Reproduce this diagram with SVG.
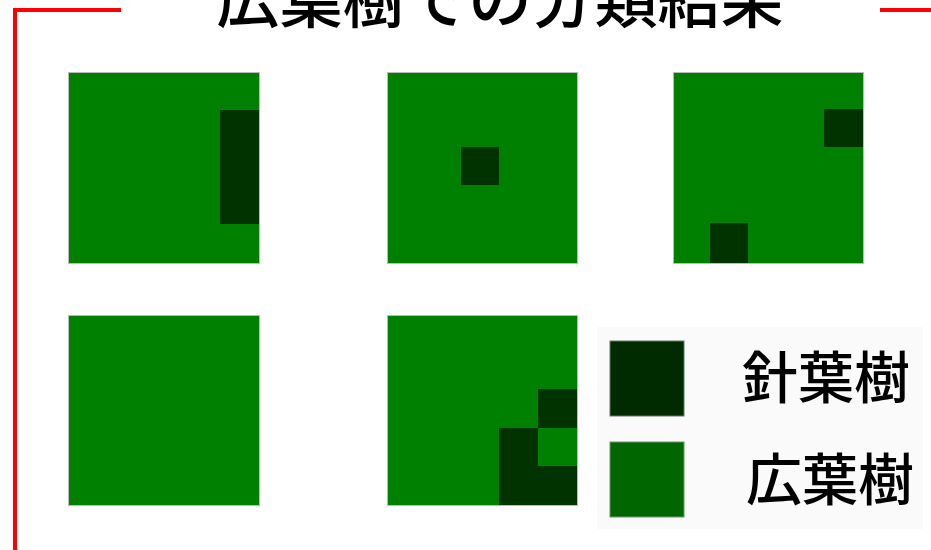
<svg xmlns="http://www.w3.org/2000/svg" width="931" height="550" viewBox="0 0 931 550">
<style>
.tile{fill:#008000;stroke:#bbbbbb;stroke-width:1}
.d{fill:#003300}
.t{font-family:"Noto Sans CJK JP","Noto Sans",sans-serif;fill:#000;font-weight:500}
</style>
<rect width="931" height="550" fill="#fff"/>
<g id="frame" fill="none" stroke="#ff0000" stroke-width="4">
<polyline points="121,10 15,10 15,550"/>
<line x1="880" y1="10" x2="931" y2="10"/>
</g>
<text id="title" class="t" x="500" y="22" font-size="63" text-anchor="middle">広葉樹での分類結果</text>
<g id="tile1">
<rect class="tile" x="68.5" y="72.5" width="191" height="191"/>
<rect class="d" x="220" y="110" width="39" height="114"/>
</g>
<g id="tile2">
<rect class="tile" x="387.5" y="72.5" width="190" height="191"/>
<rect class="d" x="461" y="147" width="38" height="38"/>
</g>
<g id="tile3">
<rect class="tile" x="673.5" y="72.5" width="190" height="191"/>
<rect class="d" x="824" y="109" width="39" height="38"/>
<rect class="d" x="710" y="223" width="38" height="40"/>
</g>
<g id="tile4">
<rect class="tile" x="68.5" y="315.5" width="191" height="190"/>
</g>
<g id="tile5">
<rect class="tile" x="387.5" y="315.5" width="190" height="190"/>
<rect class="d" x="538" y="389" width="39" height="39"/>
<rect class="d" x="499" y="428" width="39" height="77"/>
<rect class="d" x="538" y="466" width="39" height="39"/>
</g>
<g id="legend">
<rect x="597" y="327" width="326" height="202" fill="#fafafa"/>
<rect x="610" y="341" width="74" height="75" fill="#002a00" stroke="#667766" stroke-width="1"/>
<rect x="610" y="442" width="74" height="75" fill="#006600" stroke="#669966" stroke-width="1"/>
<text class="t" x="742" y="398" font-size="56">針葉樹</text>
<text class="t" x="746" y="500" font-size="56">広葉樹</text>
</g>
</svg>
